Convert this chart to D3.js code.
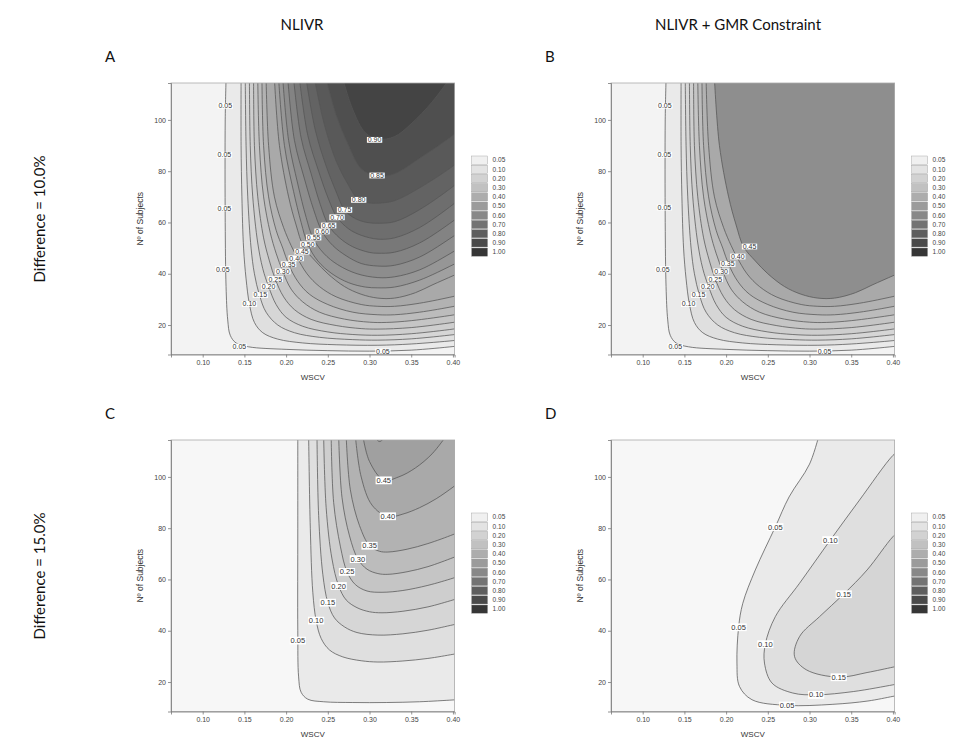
<!DOCTYPE html>
<html>
<head>
<meta charset="utf-8">
<script src="https://cdn.jsdelivr.net/npm/d3@7.9.0/dist/d3.min.js"></script>
<style>
  body { margin: 0; background: #fff; }
  svg { display: block; }
  .tick text { font-family: "Liberation Sans", Arial, sans-serif; font-size: 7px; fill: #444; }
  .tick line, .domain { stroke: #777; stroke-width: 0.8; }
</style>
</head>
<body>
<svg id="chart" width="961" height="744"></svg>
<script>
// ---- data ----
const legendLevels = [0.05, 0.10, 0.20, 0.30, 0.40, 0.50, 0.60, 0.70, 0.80, 0.90, 1.00];
const legendColors = ['#f0f0f0', '#e3e3e3', '#d2d2d2', '#c1c1c1', '#adadad', '#9b9b9b',
                      '#888888', '#737373', '#5e5e5e', '#4a4a4a', '#363636'];
const xTicks = [0.10, 0.15, 0.20, 0.25, 0.30, 0.35, 0.40];
const yTicks = [20, 40, 60, 80, 100];
const wscvDomain = [0.062, 0.402];
const nDomain = [8.5, 114.4];

const colTitles = ['NLIVR', 'NLIVR + GMR Constraint'];
const rowTitles = ['Difference = 10.0%', 'Difference = 15.0%'];

// contour lines: [level, [[WSCV, N], ...]]
const contoursA = [
  [0.05, [[0.128,116],[0.127,100],[0.127,60],[0.128,35],[0.130,22],[0.133,16],[0.140,13],[0.155,11.5],[0.20,10.5],[0.25,10],[0.30,9.8],[0.35,10.2],[0.40,11.6],[0.41,12]]],
  [0.10, [[0.146,116],[0.146,90],[0.147,70],[0.149,50],[0.152,38],[0.156,28.2],[0.162,21],[0.172,17],[0.19,14.5],[0.22,13],[0.26,12.3],[0.31,12.1],[0.35,12.6],[0.40,13.9],[0.41,14.3]]],
  [0.15, [[0.151,116],[0.152,90],[0.154,70],[0.158,50],[0.162,40],[0.168,31.7],[0.176,25],[0.19,20],[0.21,17],[0.24,15.2],[0.28,14.3],[0.31,14.1],[0.35,14.6],[0.40,16.2],[0.41,16.6]]],
  [0.20, [[0.156,116],[0.157,90],[0.160,70],[0.166,52],[0.172,42],[0.179,35],[0.188,28],[0.20,23],[0.22,19.5],[0.25,17.3],[0.28,16.3],[0.31,16],[0.35,16.6],[0.40,18.4],[0.41,18.9]]],
  [0.25, [[0.161,116],[0.162,90],[0.166,70],[0.173,54],[0.180,45],[0.187,37.9],[0.197,31],[0.21,26],[0.23,22.2],[0.26,19.8],[0.29,18.6],[0.31,18.4],[0.35,19],[0.40,21],[0.41,21.5]]],
  [0.30, [[0.166,116],[0.168,90],[0.173,70],[0.181,56],[0.188,48],[0.196,40.9],[0.206,34],[0.22,29],[0.24,25],[0.27,22.3],[0.30,21.1],[0.32,21],[0.35,21.7],[0.40,23.9],[0.41,24.5]]],
  [0.35, [[0.171,116],[0.173,90],[0.179,70],[0.188,57],[0.196,50],[0.203,43.7],[0.214,37],[0.228,32],[0.25,28],[0.28,25],[0.31,24],[0.33,24],[0.36,25],[0.40,27.2],[0.41,27.9]]],
  [0.40, [[0.176,116],[0.179,90],[0.186,70],[0.197,58],[0.206,51],[0.213,46.5],[0.225,40],[0.24,35],[0.26,31],[0.29,28],[0.31,27.3],[0.33,27.3],[0.36,28.5],[0.40,31.1],[0.41,31.9]]],
  [0.45, [[0.186,116],[0.192,90],[0.203,70],[0.212,59],[0.221,50.5],[0.235,45],[0.25,40],[0.27,35],[0.29,32],[0.31,30.5],[0.33,30.5],[0.355,32.6],[0.375,35.6],[0.40,39.2],[0.41,40.6]]],
  [0.50, [[0.191,116],[0.198,90],[0.209,72],[0.218,60],[0.226,51.5],[0.238,45],[0.255,40],[0.275,36.5],[0.295,34.8],[0.31,34.5],[0.33,34.8],[0.36,37.5],[0.40,43.5],[0.41,45.2]]],
  [0.55, [[0.196,116],[0.203,92],[0.214,75],[0.224,62],[0.232,54.1],[0.245,48],[0.262,43.5],[0.285,40],[0.31,38.5],[0.33,38.8],[0.36,41.5],[0.40,48.5],[0.41,50.5]]],
  [0.60, [[0.202,116],[0.210,92],[0.222,77],[0.233,65],[0.243,56.5],[0.256,51],[0.272,47],[0.29,44],[0.31,43],[0.33,43.3],[0.36,46.5],[0.40,54.5],[0.41,56.8]]],
  [0.65, [[0.209,116],[0.218,93],[0.230,79],[0.241,67],[0.251,58.8],[0.264,54],[0.28,50.5],[0.30,48.3],[0.31,48],[0.33,48.4],[0.36,52],[0.40,60.5],[0.41,63]]],
  [0.70, [[0.216,116],[0.226,94],[0.239,80],[0.251,69],[0.261,62],[0.275,57.5],[0.29,55],[0.31,53.5],[0.33,54],[0.36,58],[0.40,67],[0.41,69.7]]],
  [0.75, [[0.224,116],[0.235,96],[0.248,82],[0.260,72],[0.270,64.9],[0.283,61.5],[0.297,60],[0.31,59.7],[0.33,60.3],[0.36,65],[0.40,74],[0.41,76.8]]],
  [0.80, [[0.234,116],[0.246,98],[0.26,84],[0.274,75],[0.287,68.8],[0.30,67.6],[0.31,67.5],[0.33,68.5],[0.36,73.5],[0.40,82],[0.41,84.8]]],
  [0.85, [[0.248,116],[0.26,102],[0.275,90],[0.29,81],[0.309,78],[0.33,79],[0.36,85],[0.40,94],[0.41,97]]],
  [0.90, [[0.268,116],[0.28,104],[0.295,95],[0.31,92.5],[0.33,93.5],[0.35,98.5],[0.375,107],[0.40,118],[0.41,123]]]
];

const contoursC = [
  [0.05, [[0.214,116],[0.214,80],[0.214,40],[0.215,22],[0.218,16],[0.226,13.3],[0.245,12.3],[0.28,12],[0.32,12],[0.36,12.3],[0.40,13],[0.41,13.2]]],
  [0.10, [[0.227,116],[0.229,80],[0.232,55],[0.236,44],[0.242,37],[0.252,32.5],[0.268,29.8],[0.29,28.3],[0.31,27.8],[0.34,28.2],[0.37,29.2],[0.40,30.8],[0.41,31.4]]],
  [0.15, [[0.237,116],[0.239,85],[0.244,62],[0.250,51],[0.258,45],[0.27,41.5],[0.285,39.3],[0.31,38.3],[0.34,38.8],[0.37,40.2],[0.40,42.3],[0.41,43]]],
  [0.20, [[0.245,116],[0.248,88],[0.255,68],[0.263,57.5],[0.272,52],[0.285,49],[0.30,47.4],[0.315,47],[0.34,47.6],[0.37,49.3],[0.40,52],[0.41,53]]],
  [0.25, [[0.254,116],[0.257,90],[0.265,73],[0.273,63],[0.283,58],[0.297,55.5],[0.315,55],[0.34,55.7],[0.37,57.7],[0.40,60.5],[0.41,61.6]]],
  [0.30, [[0.263,116],[0.267,92],[0.276,77],[0.286,68],[0.297,64],[0.31,62.3],[0.322,62],[0.345,63],[0.37,65],[0.40,68.5],[0.41,69.8]]],
  [0.35, [[0.272,116],[0.277,95],[0.288,81],[0.300,73.2],[0.312,71],[0.322,70.7],[0.345,71.8],[0.37,74],[0.40,77.5],[0.41,78.9]]],
  [0.40, [[0.283,116],[0.29,100],[0.303,89],[0.322,84.5],[0.34,85.5],[0.36,88],[0.38,91.5],[0.40,96],[0.41,98.5]]],
  [0.45, [[0.292,116],[0.30,106],[0.317,98.8],[0.335,100],[0.355,103.5],[0.375,109],[0.392,116]]],
  [0.50, [[0.303,117],[0.312,113.8],[0.322,117]]]
];

const contoursD = [
  [0.05, [[0.312,117],[0.30,105],[0.2755,92.2],[0.259,80.5],[0.235,63.7],[0.220,50.7],[0.215,41.4],[0.213,27.4],[0.216,18.3],[0.231,13.1],[0.273,10.9],[0.328,11.3],[0.37,12.6],[0.40,14.4],[0.41,15]]],
  [0.10, [[0.41,111],[0.40,108.4],[0.36,91],[0.325,75.4],[0.288,58.5],[0.259,45.5],[0.247,34.8],[0.246,27.4],[0.255,19.6],[0.280,15.7],[0.308,15],[0.353,16.3],[0.40,18.9],[0.41,19.5]]],
  [0.15, [[0.41,79.5],[0.40,76.7],[0.369,63.7],[0.341,54.3],[0.312,45.5],[0.288,37.7],[0.282,30],[0.296,24.8],[0.335,21.9],[0.369,23.7],[0.40,25.8],[0.41,26.5]]]
];

// contour labels: [level, WSCV, N]
const labelsA = [
  [0.05,0.127,105.5],[0.05,0.126,86.4],[0.05,0.126,65.5],[0.05,0.124,41.8],[0.05,0.144,11.6],[0.05,0.316,9.7],
  [0.10,0.156,28.2],[0.15,0.169,31.7],[0.20,0.179,35],[0.25,0.187,37.9],[0.30,0.196,40.9],[0.35,0.203,43.7],
  [0.40,0.212,46],[0.45,0.219,48.6],[0.50,0.226,51.5],[0.55,0.233,54.1],[0.60,0.243,56.5],[0.65,0.251,58.8],
  [0.70,0.261,62],[0.75,0.270,64.9],[0.80,0.287,68.8],[0.85,0.309,78.3],[0.90,0.306,92.2]
];
const labelsB = [
  [0.05,0.1265,105.5],[0.05,0.126,86.4],[0.05,0.126,65.8],[0.05,0.124,41.8],[0.05,0.139,11.6],[0.05,0.318,9.7],
  [0.10,0.155,28.2],[0.15,0.167,31.7],[0.20,0.178,35],[0.25,0.187,37.9],[0.30,0.194,40.9],[0.35,0.202,43.8],
  [0.40,0.214,46.7],[0.45,0.228,50.6]
];
const labelsC = [
  [0.05,0.214,36.2],[0.10,0.236,44],[0.15,0.250,51],[0.20,0.263,57.5],[0.25,0.273,63],
  [0.30,0.286,68],[0.35,0.300,73.2],[0.40,0.322,84.7],[0.45,0.317,98.7]
];
const labelsD = [
  [0.05,0.259,80.5],[0.05,0.215,41.4],[0.05,0.273,10.9],[0.10,0.325,75.4],[0.10,0.247,34.8],
  [0.10,0.308,15],[0.15,0.341,54.3],[0.15,0.335,21.9]
];

// ---- drawing ----
const svg = d3.select('#chart');
const fmt = d3.format('.2f');
const color = d3.scaleLinear()
  .domain([0, ...legendLevels])
  .range(['#f8f8f8', ...legendColors]);

const W = 283.6, H = 271.5;

const panels = [
  { id: 'A', left: 171, top: 83,  lines: contoursA, labels: labelsA, base: 0.03,  cap: 0.93, lab: 7 },
  { id: 'B', left: 611, top: 83,  lines: contoursA.filter(c => c[0] <= 0.45), labels: labelsB, base: 0.03, cap: 0.57, lab: 7 },
  { id: 'C', left: 171, top: 440, lines: contoursC, labels: labelsC, base: 0.005, cap: 0.51, lab: 7.5 },
  { id: 'D', left: 611, top: 440, lines: contoursD, labels: labelsD, base: 0.005, cap: 0.18, lab: 7.5 }
];

const x = d3.scaleLinear().domain(wscvDomain).range([0, W]);
const y = d3.scaleLinear().domain(nDomain).range([H, 0]);
const line = d3.line().x(d => x(d[0])).y(d => y(d[1])).curve(d3.curveCatmullRom.alpha(0.5));

panels.forEach(p => {
  const g = svg.append('g').attr('transform', `translate(${p.left},${p.top})`);

  g.append('clipPath').attr('id', 'clip' + p.id)
    .append('rect').attr('width', W).attr('height', H);
  const plot = g.append('g').attr('clip-path', `url(#clip${p.id})`);

  // background = values under the lowest contour
  plot.append('rect').attr('width', W).attr('height', H).attr('fill', color(p.base));

  // filled regions, lowest level first (each covers "value >= level")
  const far = `L${x(0.5)},${y(140)}Z`;
  p.lines.forEach(([lvl, pts], j) => {
    const next = p.lines[j + 1];
    const v = next ? (lvl + next[0]) / 2 : p.cap;
    plot.append('path').attr('d', line(pts) + far).attr('fill', color(v));
  });

  // contour lines
  plot.selectAll('path.iso')
    .data(p.lines)
    .enter()
    .append('path')
      .attr('class', 'iso')
      .attr('d', d => line(d[1]))
      .attr('fill', 'none')
      .attr('stroke', '#555')
      .attr('stroke-width', 0.75);

  // contour labels on white boxes
  p.labels.forEach(([lvl, wx, n]) => {
    const lg = plot.append('g').attr('transform', `translate(${x(wx)},${y(n)})`);
    const t = lg.append('text')
      .attr('text-anchor', 'middle')
      .attr('dy', '0.35em')
      .style('font-family', '"Liberation Sans", Arial, sans-serif')
      .style('font-size', p.lab + 'px')
      .attr('fill', '#333')
      .text(fmt(lvl));
    const b = t.node().getBBox();
    lg.insert('rect', 'text')
      .attr('x', b.x - 0.8).attr('y', b.y + 0.6)
      .attr('width', b.width + 1.6).attr('height', b.height - 1.2)
      .attr('fill', '#fff');
  });

  // frame
  g.append('rect').attr('width', W).attr('height', H)
    .attr('fill', 'none').attr('stroke', '#aaa').attr('stroke-width', 0.8);

  // axes
  g.append('g').attr('transform', `translate(0,${H})`)
    .call(d3.axisBottom(x).tickValues(xTicks).tickFormat(fmt).tickSize(3).tickPadding(3));
  g.append('g')
    .call(d3.axisLeft(y).tickValues(yTicks).tickSize(3).tickPadding(2));

  g.append('text')
    .attr('x', W / 2).attr('y', H + 25)
    .attr('text-anchor', 'middle')
    .style('font-family', '"Liberation Sans", Arial, sans-serif')
    .style('font-size', '8px').attr('fill', '#333')
    .text('WSCV');
  g.append('text')
    .attr('transform', `translate(-28,${H / 2}) rotate(-90)`)
    .attr('text-anchor', 'middle')
    .style('font-family', '"Liberation Sans", Arial, sans-serif')
    .style('font-size', '8.5px').attr('fill', '#333')
    .text('Nº of Subjects');

  // legend
  const lgd = g.append('g').attr('transform', `translate(${W + 17},73)`);
  legendLevels.forEach((lv, k) => {
    lgd.append('rect')
      .attr('x', 0).attr('y', k * 9.2)
      .attr('width', 16).attr('height', 8.2)
      .attr('fill', legendColors[k])
      .attr('stroke', '#999').attr('stroke-width', 0.4);
    lgd.append('text')
      .attr('x', 21).attr('y', k * 9.2 + 4.1).attr('dy', '0.35em')
      .style('font-family', '"Liberation Sans", Arial, sans-serif')
      .style('font-size', '6.5px').attr('fill', '#444')
      .text(fmt(lv));
  });

  // panel letter
  svg.append('text')
    .attr('x', p.left - 66).attr('y', p.top - 21)
    .style('font-family', 'Lato, "Open Sans", sans-serif')
    .style('font-size', '15px').attr('fill', '#111')
    .text(p.id);
});

// column and row titles
[302, 738].forEach((cx, i) => {
  svg.append('text')
    .attr('x', cx).attr('y', 30)
    .attr('text-anchor', 'middle')
    .style('font-family', 'Lato, "Open Sans", sans-serif')
    .style('font-size', '15px').attr('fill', '#111')
    .text(colTitles[i]);
});
[219, 576].forEach((cy, i) => {
  svg.append('text')
    .attr('transform', `translate(45,${cy}) rotate(-90)`)
    .attr('text-anchor', 'middle')
    .style('font-family', 'Lato, "Open Sans", sans-serif')
    .style('font-size', '15px').attr('fill', '#111')
    .text(rowTitles[i]);
});
</script>
</body>
</html>
